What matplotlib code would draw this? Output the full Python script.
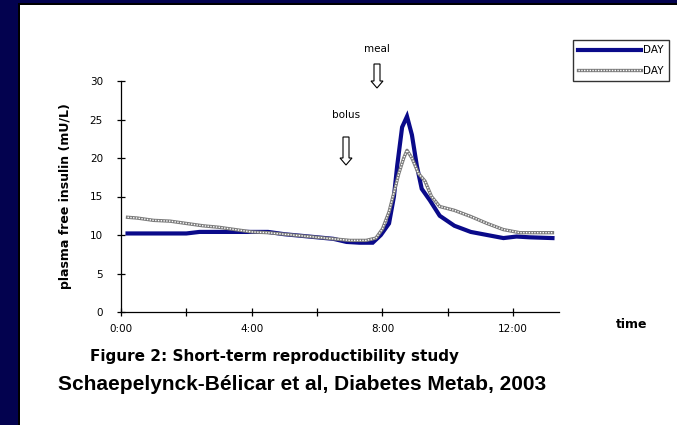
import matplotlib
matplotlib.use("Agg")
import matplotlib.pyplot as plt
from matplotlib.patches import Rectangle, FancyArrow
from matplotlib.lines import Line2D

# data (time in hours, insulin in mU/L)
blue_t = [0.2, 1, 2, 2.4, 3, 4, 4.5, 5, 5.5, 6, 6.5, 6.9, 7.3, 7.7, 7.95, 8.2, 8.35, 8.45, 8.6, 8.75,
          8.9, 9.05, 9.2, 9.45, 9.75, 10.2, 10.7, 11.2, 11.7, 12.1, 12.5, 13.2]
blue_v = [10.2, 10.2, 10.2, 10.4, 10.4, 10.4, 10.4, 10.1, 9.9, 9.7, 9.5, 9.1, 9.0, 9.0, 10.0, 11.5, 15, 19, 24, 25.4,
          23, 19, 16, 14.5, 12.5, 11.2, 10.4, 10.0, 9.6, 9.8, 9.7, 9.6]
gray_t = [0.2, 0.5, 1, 1.5, 2, 2.5, 3, 3.5, 4, 4.5, 5, 5.5, 6, 6.5, 7, 7.5, 7.8, 8.0, 8.2, 8.35, 8.5, 8.65, 8.75,
          8.9, 9.1, 9.3, 9.5, 9.75, 10.2, 10.7, 11.2, 11.7, 12.2, 12.6, 13.2]
gray_v = [12.3, 12.2, 11.9, 11.8, 11.5, 11.2, 11.0, 10.7, 10.4, 10.3, 10.1, 9.9, 9.7, 9.5, 9.3, 9.3, 9.6, 10.8, 13, 15.5, 18, 20, 21.0,
          20, 18, 17, 15, 13.7, 13.2, 12.4, 11.5, 10.7, 10.3, 10.3, 10.3]
series_labels = ["DAY", "DAY"]
x_ticks = [0, 2, 4, 6, 8, 10, 12]
x_ticklabels = ["0:00", "", "4:00", "", "8:00", "", "12:00"]
y_ticks = [0, 5, 10, 15, 20, 25, 30]

W, H = 677, 425
fig = plt.figure(figsize=(6.77, 4.25), dpi=100)
fig.patch.set_facecolor("white")
# frame bands
fig.patches.append(Rectangle((0, 0), 18/W, 1, transform=fig.transFigure, fc="#03024f", ec="none", zorder=0))
fig.patches.append(Rectangle((0, 1-3/H), 1, 3/H, transform=fig.transFigure, fc="#03024f", ec="none", zorder=0))
fig.patches.append(Rectangle((18/W, 0), 2/W, 1-3/H, transform=fig.transFigure, fc="black", ec="none", zorder=0))
fig.patches.append(Rectangle((18/W, 1-5/H), 1, 2/H, transform=fig.transFigure, fc="black", ec="none", zorder=0))

ax = fig.add_axes([121/W, 1-312/H, (559-121)/W, (312-81)/H])
ax.set_xlim(0, 13.4)
ax.set_ylim(0, 30)

ax.plot(blue_t, blue_v, color="#0a0a8a", lw=3.0, solid_joinstyle="miter", zorder=3)
ax.plot(gray_t, gray_v, color="#7a7a7a", lw=2.4, zorder=4)
ax.plot(gray_t, gray_v, color="white", lw=1.0, ls=(0, (1, 1)), zorder=5)

for s in ["top", "right"]:
    ax.spines[s].set_visible(False)
for s in ["left", "bottom"]:
    ax.spines[s].set_linewidth(0.9)
ax.set_xticks(x_ticks)
ax.set_xticklabels(x_ticklabels)
ax.set_yticks(y_ticks)
ax.tick_params(axis="both", direction="inout", length=6, width=0.9, labelsize=7.5, pad=6)
ax.tick_params(axis="y", pad=10)

ax.set_ylabel("plasma free insulin (mU/L)", fontsize=9, fontweight="bold", labelpad=13)
fig.text(632/W, 1-325/H, "time", fontsize=9, fontweight="bold", ha="center", va="center")

# hollow arrows (figure pixel geometry)
def hollow_arrow(xc, ytop, ybot):
    length = (ybot - ytop) / H
    arr = FancyArrow(xc/W, 1-ytop/H, 0, -length, width=6/W, head_width=12/W, head_length=7/H,
                     length_includes_head=True, transform=fig.transFigure, fc="white", ec="black", lw=0.8)
    fig.patches.append(arr)

hollow_arrow(377, 64, 88)
hollow_arrow(346, 137, 165)
fig.text(377/W, 1-49/H, "meal", fontsize=7.5, ha="center", va="center")
fig.text(346/W, 1-115/H, "bolus", fontsize=7.5, ha="center", va="center")

# legend
h1 = Line2D([], [], color="#0a0a8a", lw=3.0)
h2 = (Line2D([], [], color="#7a7a7a", lw=2.4), Line2D([], [], color="white", lw=1.0, ls=(0, (1, 1))))
leg = fig.legend([h1, h2], series_labels, loc="upper left", bbox_to_anchor=(573/W, 1-40/H),
                 fontsize=7.5, frameon=True, fancybox=False, edgecolor="black", handlelength=6.0,
                 handletextpad=0.2, borderpad=0.5, labelspacing=1.0, borderaxespad=0)
leg.get_frame().set_linewidth(1.0)

fig.text(90/W, 1-357/H, "Figure 2: Short-term reproductibility study", fontsize=11, fontweight="bold",
         ha="left", va="center")
fig.text(58/W, 1-384/H, "Schaepelynck-Bélicar et al, Diabetes Metab, 2003", fontsize=15, fontweight="bold",
         ha="left", va="center", family="Liberation Sans")

fig.savefig("out.png", dpi=100)
